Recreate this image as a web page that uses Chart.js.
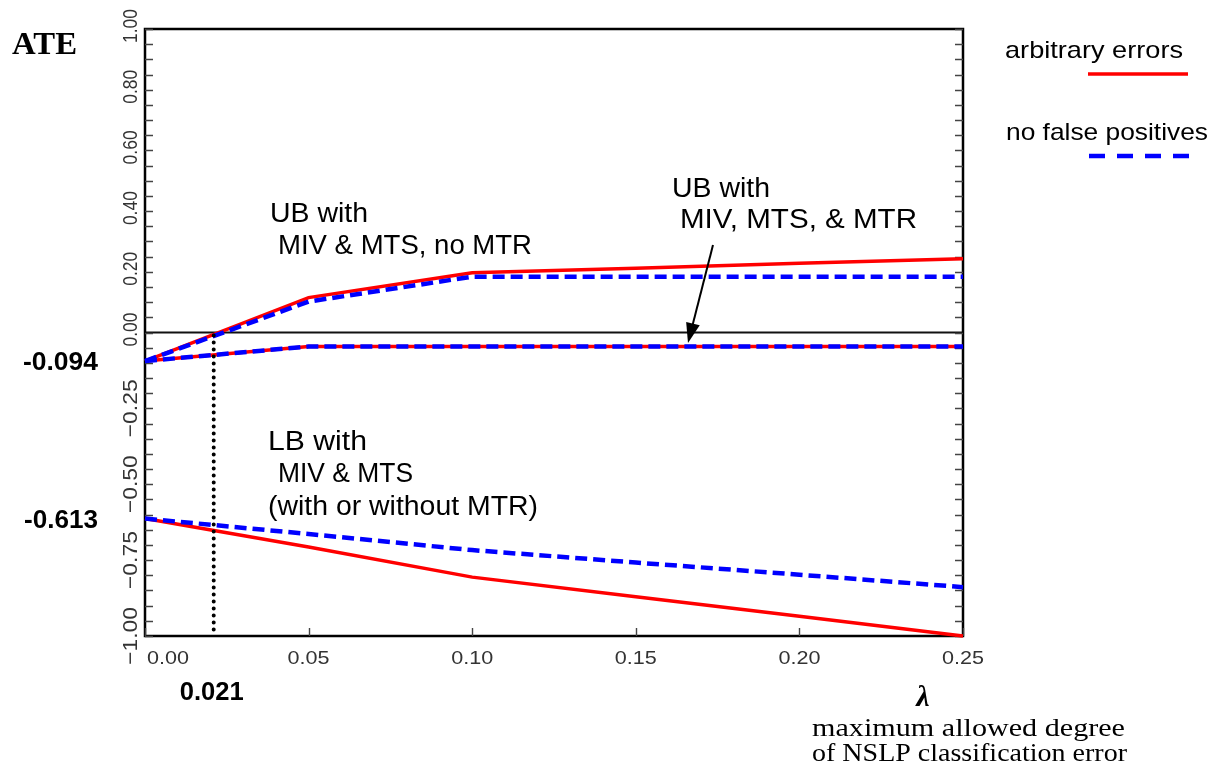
<!DOCTYPE html>
<html><head><meta charset="utf-8">
<script src="https://cdn.jsdelivr.net/npm/chart.js@4.4.1/dist/chart.umd.min.js"></script>
<style>html,body{margin:0;padding:0;background:#fff;overflow:hidden}</style>
</head><body>
<canvas id="c" width="1220" height="773" style="width:1220px;height:773px;display:block"></canvas>
<script>
// ---- data ----
const lambda = [0, 0.05, 0.10, 0.15, 0.20, 0.25];
const ubNoMtrArbitrary = [-0.094, 0.115, 0.197, 0.212, 0.228, 0.243];
const ubNoMtrNoFalsePos = [-0.094, 0.102, 0.184, 0.184, 0.184, 0.184];
const ubMtrArbitrary = [-0.094, -0.046, -0.046, -0.046, -0.046, -0.046];
const ubMtrNoFalsePos = [-0.094, -0.046, -0.046, -0.046, -0.046, -0.046];
const lbArbitrary = [-0.613, -0.707, -0.806, -0.871, -0.935, -1.0];
const lbNoFalsePos = [-0.613, -0.664, -0.717, -0.758, -0.798, -0.839];
const crossingLambda = 0.021;
const ubAtZero = -0.094;
const lbAtZero = -0.613;
const xTickValues = [0, 0.05, 0.10, 0.15, 0.20, 0.25];
const xTickLabels = ['0.00', '0.05', '0.10', '0.15', '0.20', '0.25'];
const yTickValuesUpper = [0, 0.2, 0.4, 0.6, 0.8, 1.0];
const yTickLabelsUpper = ['0.00', '0.20', '0.40', '0.60', '0.80', '1.00'];
const yTickValuesLower = [-0.25, -0.5, -0.75, -1.0];
const yTickLabelsLower = ['\u22120.25', '\u22120.50', '\u22120.75', '\u22121.00'];
const legendLabels = ['arbitrary errors', 'no false positives'];

const RED = '#ff0000', BLUE = '#0000ff';
const SANS = '"Liberation Sans", Arial, sans-serif';
const SERIF = '"Liberation Serif", "Times New Roman", serif';

function pts(ys) { return lambda.map((x, i) => ({x: x, y: ys[i]})); }

function text(ctx, s, x, y, font, o) {
  o = o || {};
  ctx.save();
  ctx.font = font;
  ctx.fillStyle = o.color || '#000';
  ctx.textBaseline = o.baseline || 'alphabetic';
  ctx.textAlign = 'left';
  const w = ctx.measureText(s).width;
  const sx = o.width ? o.width / w : (o.sx || 1);
  ctx.translate(x, y);
  if (o.rotate) {
    ctx.rotate(o.rotate);
    ctx.scale(sx, o.sy || 1);
  } else {
    ctx.scale(sx, 1);
  }
  let off = 0;
  if (o.align === 'center') off = -w / 2;
  else if (o.align === 'right') off = -w;
  ctx.fillText(s, off, 0);
  ctx.restore();
}

const decor = {
  id: 'decor',
  beforeDatasetsDraw(chart) {
    const ctx = chart.ctx, a = chart.chartArea;
    const xs = chart.scales.x, ys = chart.scales.y;
    ctx.save();
    // zero line
    ctx.strokeStyle = '#111';
    ctx.lineWidth = 1.8;
    ctx.beginPath();
    const y0 = ys.getPixelForValue(0);
    ctx.moveTo(a.left, y0); ctx.lineTo(a.right, y0); ctx.stroke();
    // frame
    ctx.strokeStyle = '#000';
    ctx.lineWidth = 2.5;
    ctx.strokeRect(a.left, a.top, a.right - a.left, a.bottom - a.top);
    // y ticks every 0.05 (left & right, inward)
    ctx.strokeStyle = '#444';
    ctx.lineWidth = 1.4;
    for (let k = -20; k <= 20; k++) {
      const v = k * 0.05;
      const py = Math.round(ys.getPixelForValue(v)) + 0.5;
      ctx.beginPath();
      ctx.moveTo(a.left, py); ctx.lineTo(a.left + 8, py);
      ctx.moveTo(a.right, py); ctx.lineTo(a.right - 8, py);
      ctx.stroke();
    }
    // x ticks
    xTickValues.forEach(v => {
      const px = Math.round(xs.getPixelForValue(v)) + 0.5;
      ctx.beginPath();
      ctx.moveTo(px, a.bottom); ctx.lineTo(px, a.bottom - 8);
      ctx.stroke();
    });
    ctx.restore();
    // x tick labels
    xTickValues.forEach((v, i) => {
      const px = xs.getPixelForValue(v);
      if (i === 0) text(ctx, xTickLabels[i], px + 2, a.bottom + 28, '19px ' + SANS, {color: '#333', width: 42});
      else text(ctx, xTickLabels[i], px, a.bottom + 28, '19px ' + SANS, {color: '#333', width: 42, align: 'center'});
    });
    // y tick labels (rotated)
    yTickValuesUpper.forEach((v, i) => {
      const py = ys.getPixelForValue(v) - 3;
      text(ctx, yTickLabelsUpper[i], 137, py, '19px ' + SANS, {color: '#333', rotate: -Math.PI / 2, width: 34, sy: 1.08, align: 'center'});
    });
    yTickValuesLower.forEach((v, i) => {
      const py = ys.getPixelForValue(v);
      text(ctx, yTickLabelsLower[i], 137, py, '19px ' + SANS, {color: '#333', rotate: -Math.PI / 2, width: 58, sy: 1.08, align: 'center'});
    });
  },
  afterDatasetsDraw(chart) {
    const ctx = chart.ctx, a = chart.chartArea;
    const xs = chart.scales.x, ys = chart.scales.y;
    // axis title & side value labels
    text(ctx, 'ATE', 12, 54, 'bold 31px ' + SERIF, {width: 65});
    text(ctx, ubAtZero.toFixed(3), 98, ys.getPixelForValue(ubAtZero) + 9, 'bold 26px ' + SANS, {width: 75, align: 'right'});
    text(ctx, lbAtZero.toFixed(3), 98, ys.getPixelForValue(lbAtZero) + 9, 'bold 26px ' + SANS, {width: 74, align: 'right'});
    text(ctx, crossingLambda.toFixed(3), xs.getPixelForValue(crossingLambda) - 2, 700, 'bold 26px ' + SANS, {width: 64, align: 'center'});
    // x axis title
    text(ctx, '\u03bb', 923, 706, 'italic bold 30px ' + SERIF, {align: 'center'});
    text(ctx, 'maximum allowed degree', 812, 736, '25px ' + SERIF, {width: 313});
    text(ctx, 'of NSLP classification error', 812, 761, '25px ' + SERIF, {width: 315});
    // annotations
    const F = '27px ' + SANS;
    text(ctx, 'UB with', 270, 222, F, {width: 98});
    text(ctx, 'MIV & MTS, no MTR', 278, 254, F, {width: 254});
    text(ctx, 'UB with', 672, 197, F, {width: 98});
    text(ctx, 'MIV, MTS, & MTR', 680, 228, F, {width: 237});
    text(ctx, 'LB with', 268, 450, F, {width: 99});
    text(ctx, 'MIV & MTS', 278, 482, F, {width: 135});
    text(ctx, '(with or without MTR)', 268, 515, F, {width: 270});
    // arrow
    ctx.save();
    const tx = 713, ty = 245, hx = 688, hy = 343;
    const ang = Math.atan2(hy - ty, hx - tx);
    ctx.strokeStyle = '#000'; ctx.fillStyle = '#000'; ctx.lineWidth = 2;
    ctx.beginPath(); ctx.moveTo(tx, ty);
    ctx.lineTo(hx - 16 * Math.cos(ang), hy - 16 * Math.sin(ang)); ctx.stroke();
    ctx.beginPath();
    ctx.moveTo(hx, hy);
    ctx.lineTo(hx - 20 * Math.cos(ang) + 7 * Math.sin(ang), hy - 20 * Math.sin(ang) - 7 * Math.cos(ang));
    ctx.lineTo(hx - 20 * Math.cos(ang) - 7 * Math.sin(ang), hy - 20 * Math.sin(ang) + 7 * Math.cos(ang));
    ctx.closePath(); ctx.fill();
    ctx.restore();
    // legend
    text(ctx, legendLabels[0], 1005, 58, '24px ' + SANS, {width: 178});
    text(ctx, legendLabels[1], 1006, 140, '24px ' + SANS, {width: 202});
    ctx.save();
    ctx.lineCap = 'butt';
    ctx.strokeStyle = RED; ctx.lineWidth = 3.5;
    ctx.beginPath(); ctx.moveTo(1088, 74); ctx.lineTo(1188, 74); ctx.stroke();
    ctx.strokeStyle = BLUE; ctx.lineWidth = 4.5; ctx.setLineDash([16, 12]);
    ctx.beginPath(); ctx.moveTo(1089, 156); ctx.lineTo(1190, 156); ctx.stroke();
    ctx.restore();
  }
};

const blue = (data) => ({data: pts(data), borderColor: BLUE, borderWidth: 4.5, borderDash: [12, 6], pointRadius: 0, tension: 0, fill: false, clip: false});
const red = (data) => ({data: pts(data), borderColor: RED, borderWidth: 3.5, pointRadius: 0, tension: 0, fill: false, clip: false});

new Chart(document.getElementById('c'), {
  type: 'line',
  data: {
    datasets: [
      {data: [{x: crossingLambda, y: -0.01}, {x: crossingLambda, y: -1}], borderColor: '#000', borderWidth: 4,
       borderDash: [0, 7], borderCapStyle: 'round', pointRadius: 0, fill: false, clip: false},
      blue(ubNoMtrNoFalsePos), blue(ubMtrNoFalsePos), blue(lbNoFalsePos),
      red(ubNoMtrArbitrary), red(ubMtrArbitrary), red(lbArbitrary)
    ]
  },
  options: {
    responsive: false, animation: false, devicePixelRatio: 1,
    layout: {padding: {left: 145, right: 257, top: 29, bottom: 137}},
    plugins: {legend: {display: false}, tooltip: {enabled: false}},
    events: [],
    scales: {
      x: {type: 'linear', min: 0, max: 0.25, display: false},
      y: {type: 'linear', min: -1, max: 1, display: false}
    }
  },
  plugins: [decor]
});
</script>
</body></html>
